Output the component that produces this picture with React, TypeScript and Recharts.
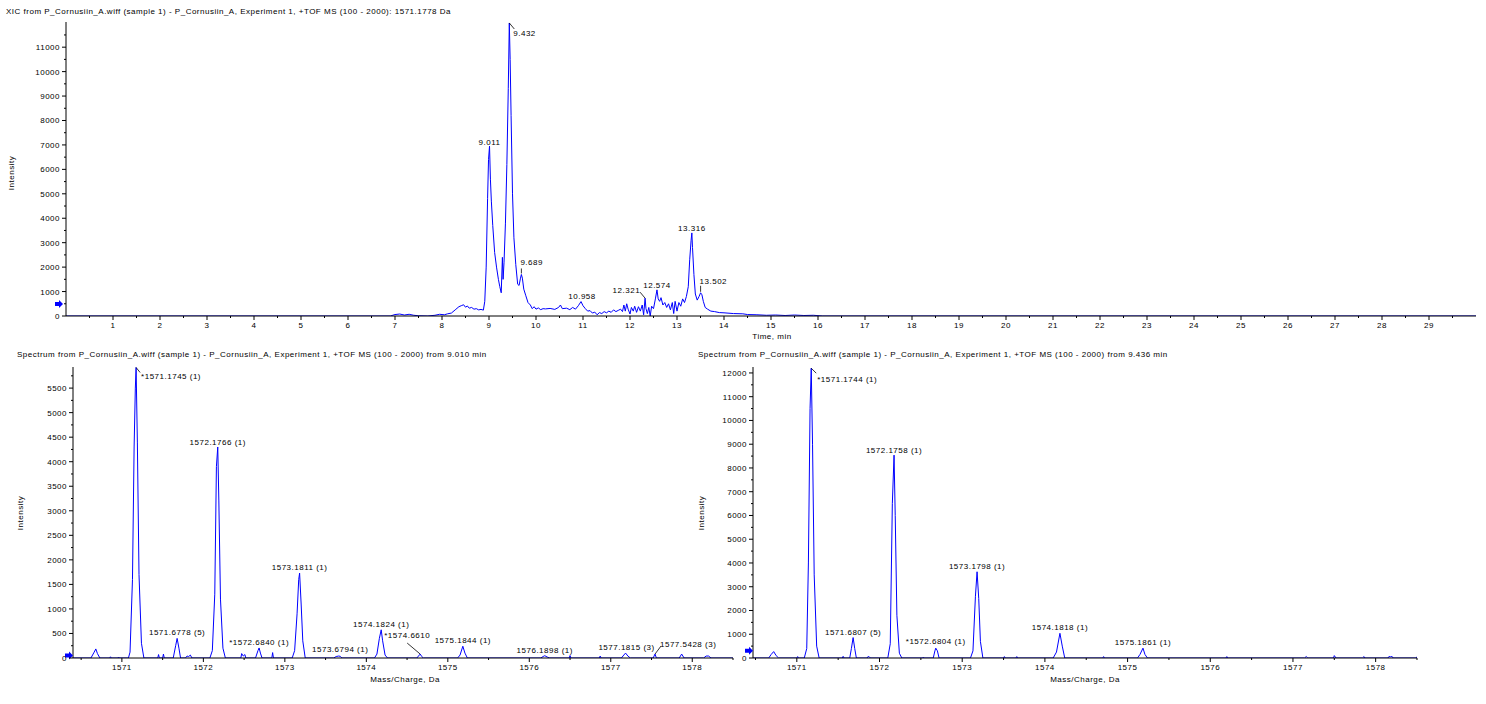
import React from 'react';
import { LineChart, Line, XAxis, YAxis, ReferenceDot } from 'recharts';

const FONT = '"Liberation Sans", Arial, sans-serif';
const BLUE = '#0000ff';

// ---- XIC of 1571.1778 Da ----
const xicTime = [
    0, 6.9, 7.0, 7.1, 7.2, 7.3, 7.4, 7.5, 7.7, 7.85, 7.95, 8.05, 8.12, 8.2, 8.28, 8.36, 8.42, 8.46,
    8.5, 8.54, 8.58, 8.63, 8.68, 8.73, 8.78, 8.83, 8.88, 8.91, 8.94, 8.97, 8.99, 9.011, 9.03, 9.05,
    9.08, 9.12, 9.16, 9.2, 9.23, 9.26, 9.285, 9.3, 9.32, 9.35, 9.38, 9.41, 9.432, 9.45, 9.47, 9.5,
    9.53, 9.57, 9.61, 9.64, 9.67, 9.689, 9.71, 9.74, 9.78, 9.83, 9.88, 9.92, 9.96, 10.0, 10.05, 10.1,
    10.15, 10.2, 10.3, 10.4, 10.48, 10.52, 10.56, 10.65, 10.72, 10.78, 10.84, 10.9, 10.958, 11.0,
    11.05, 11.1, 11.15, 11.2, 11.25, 11.3, 11.35, 11.4, 11.45, 11.5, 11.55, 11.6, 11.65, 11.7, 11.75,
    11.8, 11.84, 11.87, 11.9, 11.93, 11.96, 12.0, 12.03, 12.07, 12.1, 12.14, 12.18, 12.22, 12.26,
    12.29, 12.321, 12.34, 12.37, 12.4, 12.43, 12.46, 12.5, 12.54, 12.574, 12.6, 12.63, 12.66, 12.7,
    12.74, 12.78, 12.82, 12.86, 12.9, 12.93, 12.96, 13.0, 13.04, 13.08, 13.12, 13.16, 13.2, 13.24,
    13.27, 13.3, 13.316, 13.33, 13.36, 13.39, 13.43, 13.47, 13.502, 13.53, 13.56, 13.6, 13.65, 13.72,
    13.8, 13.9, 14.0, 14.2, 14.4, 14.5, 14.7, 14.9, 15.1, 15.3, 15.5, 15.7, 15.9, 16.1, 30,
];
const xicIntensity = [
    0, 0, 60, 80, 40, 70, 30, 10, 0, 30, 70, 50, 90, 120, 250, 380, 430, 460,
    360, 410, 320, 350, 280, 300, 250, 270, 240, 600, 2000, 4800, 6400, 6950, 5600, 4700,
    3700, 2600, 2000, 1500, 1200, 950, 2400, 1500, 2200, 3800, 6200, 9300, 11990, 10500, 8200, 5000,
    3200, 2100, 1300, 1250, 1550, 1700, 1550, 1100, 850, 550, 450, 300, 380, 280, 330, 260,
    300, 290, 310, 270, 350, 450, 300, 320, 260, 350, 280, 420, 590, 420,
    300, 200, 220, 120, 160, 50, 140, 100, 180, 130, 200, 150, 250, 180, 230,
    280, 180, 450, 200, 500, 280, 80, 350, 200, 400, 150, 380, 200, 450,
    50, 730, 300, 100, 350, 0, 400, 300, 700, 1070, 700, 600, 750, 450,
    550, 350, 500, 250, 550, 100, 600, 200, 550, 400, 700, 550, 800, 1200,
    2300, 3100, 3400, 2800, 1700, 900, 650, 800, 950, 870, 600, 350, 280, 200,
    180, 140, 130, 100, 90, 60, 50, 30, 40, 20, 40, 20, 30, 0, 0,
];
const xicPeakTime = [9.011, 9.432, 9.689, 10.958, 12.321, 12.574, 13.316, 13.502];
const xicPeakIntensity = [6950, 11990, 1700, 590, 730, 1070, 3400, 950];
const xicPeakText = ['9.011', '9.432', '9.689', '10.958', '12.321', '12.574', '13.316', '13.502'];

const timeTicks = [1, 2, 3, 4, 5, 6, 7, 8, 9, 10, 11, 12, 13, 14, 15, 16, 17, 18, 19, 20, 21, 22, 23, 24, 25, 26, 27, 28, 29];
const xicYTicks = [0, 1000, 2000, 3000, 4000, 5000, 6000, 7000, 8000, 9000, 10000, 11000];

// ---- spectrum from 9.010 min ----
const spec1Mz = [
    1570.4, 1570.62, 1570.66, 1570.68, 1570.7, 1570.73, 1570.85, 1570.86, 1570.87, 1570.95, 1570.96, 1570.97,
    1571.08, 1571.1, 1571.13, 1571.15, 1571.165, 1571.1745, 1571.19, 1571.21, 1571.24, 1571.27,
    1571.44, 1571.45, 1571.46, 1571.5, 1571.51, 1571.52, 1571.63, 1571.66, 1571.6778, 1571.7, 1571.72,
    1571.78, 1571.8, 1571.82, 1571.84, 1571.86,
    1572.08, 1572.11, 1572.14, 1572.16, 1572.1766, 1572.19, 1572.21, 1572.24, 1572.27,
    1572.46, 1572.47, 1572.49, 1572.51, 1572.52, 1572.64, 1572.67, 1572.684, 1572.7, 1572.72,
    1572.84, 1572.85, 1572.86,
    1573.09, 1573.12, 1573.15, 1573.17, 1573.1811, 1573.2, 1573.22, 1573.25,
    1573.6, 1573.63, 1573.66, 1573.6794, 1573.7,
    1574.1, 1574.13, 1574.16, 1574.1824, 1574.2, 1574.23, 1574.26,
    1574.62, 1574.64, 1574.661, 1574.68, 1574.7,
    1575.12, 1575.15, 1575.1844, 1575.21, 1575.24,
    1576.14, 1576.17, 1576.1898, 1576.22, 1576.25, 1576.49, 1576.5, 1576.51, 1576.86, 1576.87, 1576.88,
    1577.13, 1577.16, 1577.1815, 1577.21, 1577.24, 1577.52, 1577.5428, 1577.56,
    1577.84, 1577.87, 1577.9, 1578.14, 1578.17, 1578.2, 1578.23, 1578.5,
];
const spec1Intensity = [
    0, 0, 120, 185, 90, 0, 0, 25, 0, 0, 20, 0,
    0, 120, 1600, 4300, 5500, 5920, 4400, 1700, 300, 0,
    0, 70, 0, 0, 80, 0, 0, 250, 400, 200, 0,
    0, 40, 30, 60, 0,
    0, 150, 1300, 3900, 4300, 3200, 1200, 200, 0,
    0, 90, 40, 70, 0, 0, 150, 205, 100, 0,
    0, 110, 0,
    0, 150, 900, 1600, 1730, 1100, 350, 0,
    0, 30, 40, 35, 0,
    0, 80, 400, 575, 350, 60, 0,
    0, 40, 80, 30, 0,
    0, 60, 240, 100, 0,
    0, 30, 47, 20, 0, 0, 50, 0, 0, 40, 0,
    0, 60, 100, 40, 0, 0, 80, 0,
    0, 80, 0, 0, 40, 40, 0, 0,
];
const spec1PeakMz = [1571.1745, 1572.1766, 1573.1811, 1571.6778, 1572.684, 1573.6794, 1574.1824, 1574.661, 1575.1844, 1576.1898, 1577.1815, 1577.5428];
const spec1PeakIntensity = [5920, 4300, 1730, 400, 205, 35, 575, 80, 240, 47, 100, 80];
const spec1PeakText = [
    '*1571.1745 (1)', '1572.1766 (1)', '1573.1811 (1)', '1571.6778 (5)', '*1572.6840 (1)', '1573.6794 (1)',
    '1574.1824 (1)', '*1574.6610', '1575.1844 (1)', '1576.1898 (1)', '1577.1815 (3)', '1577.5428 (3)',
];
const spec1YTicks = [0, 500, 1000, 1500, 2000, 2500, 3000, 3500, 4000, 4500, 5000, 5500];

// ---- spectrum from 9.436 min ----
const spec2Mz = [
    1570.47, 1570.66, 1570.69, 1570.72, 1570.75, 1570.78, 1571.0, 1571.01, 1571.02,
    1571.09, 1571.12, 1571.14, 1571.16, 1571.1744, 1571.19, 1571.21, 1571.24, 1571.27,
    1571.55, 1571.56, 1571.57, 1571.64, 1571.66, 1571.6807, 1571.7, 1571.72,
    1571.85, 1571.86, 1571.88, 1571.89,
    1572.1, 1572.13, 1572.155, 1572.1758, 1572.19, 1572.21, 1572.24, 1572.27,
    1572.52, 1572.53, 1572.54, 1572.65, 1572.67, 1572.6804, 1572.7, 1572.72,
    1573.1, 1573.13, 1573.16, 1573.1798, 1573.2, 1573.22, 1573.25,
    1573.5, 1573.51, 1573.52, 1573.65, 1573.66, 1573.67,
    1574.1, 1574.14, 1574.1818, 1574.21, 1574.24, 1574.7, 1574.71, 1574.72,
    1575.12, 1575.15, 1575.1861, 1575.21, 1575.24,
    1576.19, 1576.2, 1576.21, 1577.14, 1577.16, 1577.18, 1577.49, 1577.5, 1577.52,
    1577.84, 1577.86, 1577.87, 1578.15, 1578.16, 1578.18, 1578.2, 1578.21, 1578.48, 1578.5,
];
const spec2Intensity = [
    0, 0, 150, 270, 100, 0, 0, 60, 0,
    0, 400, 4000, 10500, 12200, 9000, 3500, 500, 0,
    0, 70, 0, 0, 400, 860, 400, 0,
    0, 60, 40, 0,
    0, 600, 6500, 8540, 6000, 1800, 200, 0,
    0, 40, 0, 0, 300, 415, 300, 0,
    0, 300, 2600, 3630, 2500, 700, 0,
    0, 60, 0, 0, 60, 0,
    0, 250, 1040, 500, 0, 0, 60, 0,
    0, 150, 415, 150, 0,
    0, 60, 0, 0, 60, 0, 0, 100, 0,
    0, 60, 0, 0, 60, 50, 60, 0, 0, 40,
];
const spec2PeakMz = [1571.1744, 1572.1758, 1573.1798, 1571.6807, 1572.6804, 1574.1818, 1575.1861];
const spec2PeakIntensity = [12200, 8540, 3630, 860, 415, 1040, 415];
const spec2PeakText = ['*1571.1744 (1)', '1572.1758 (1)', '1573.1798 (1)', '1571.6807 (5)', '*1572.6804 (1)', '1574.1818 (1)', '1575.1861 (1)'];
const spec2YTicks = [0, 1000, 2000, 3000, 4000, 5000, 6000, 7000, 8000, 9000, 10000, 11000, 12000];

const mzTicks = [1571, 1572, 1573, 1574, 1575, 1576, 1577, 1578];

// label placement (offsets from the peak apex, in px)
type LabelPlace = { anchor: 'start' | 'middle' | 'end'; dx: number; dy: number; leader?: number[] };
const labelPlace: Record<string, LabelPlace> = {
    '9.011': { anchor: 'middle', dx: 0, dy: -1 },
    '9.432': { anchor: 'start', dx: 4, dy: 13, leader: [0, 0, 5, 6] },
    '9.689': { anchor: 'start', dx: -1, dy: -9, leader: [0, -1, 0, -6] },
    '10.958': { anchor: 'middle', dx: 1, dy: -3 },
    '12.321': { anchor: 'end', dx: -5, dy: -5, leader: [-5, -6, 0, 0] },
    '12.574': { anchor: 'middle', dx: 0, dy: -2 },
    '13.316': { anchor: 'middle', dx: 0, dy: -2 },
    '13.502': { anchor: 'start', dx: -1, dy: -9, leader: [0, -1, 0, -7] },
    '*1571.1745 (1)': { anchor: 'start', dx: 5, dy: 12, leader: [0, 0, 4, 5] },
    '1572.1766 (1)': { anchor: 'middle', dx: 0, dy: -2 },
    '1573.6794 (1)': { anchor: 'middle', dx: 0, dy: -4 },
    '*1574.6610': { anchor: 'end', dx: 10, dy: -16, leader: [-13, -11, 0, 0] },
    '1577.1815 (3)': { anchor: 'middle', dx: 1, dy: -3 },
    '1577.5428 (3)': { anchor: 'start', dx: 5, dy: -7, leader: [0, 0, 6, -8] },
    '*1571.1744 (1)': { anchor: 'start', dx: 6, dy: 14, leader: [0, 0, 5, 5] },
    '1572.1758 (1)': { anchor: 'middle', dx: 0, dy: -2 },
    '*1572.6804 (1)': { anchor: 'middle', dx: 0, dy: -4 },
};

const textStyle: React.CSSProperties = { fontFamily: FONT, fontSize: 8, letterSpacing: 0.5, fill: '#000' };

function PeakLabel({ cx, cy, text }: { cx: number; cy: number; text: string }) {
    const s = labelPlace[text] || { anchor: 'middle', dx: 0, dy: -3 };
    return (
        <g>
            {s.leader && (
                <line x1={cx + s.leader[0]} y1={cy + s.leader[1]} x2={cx + s.leader[2]} y2={cy + s.leader[3]} stroke="#000" strokeWidth={0.8} />
            )}
            <text x={cx + s.dx} y={cy + s.dy} textAnchor={s.anchor} style={textStyle}>{text}</text>
        </g>
    );
}

const arrowShape = (p: any) => {
    const { cx, cy } = p;
    return (
        <polygon
            points={`${cx - 9},${cy - 2} ${cx - 5},${cy - 2} ${cx - 5},${cy - 4} ${cx - 1},${cy} ${cx - 5},${cy + 4} ${cx - 5},${cy + 2} ${cx - 9},${cy + 2}`}
            fill={BLUE}
        />
    );
};

const makeXTick = (majors: number[]) => (props: any) => {
    const { x, y, payload } = props;
    const major = majors.includes(payload.value);
    return (
        <g>
            <line x1={x} y1={y} x2={x} y2={y + (major ? 4 : 2)} stroke="#000" />
            {major && <text x={x} y={y + 12} textAnchor="middle" style={textStyle}>{payload.value}</text>}
        </g>
    );
};

const makeYTick = (majors: number[]) => (props: any) => {
    const { x, y, payload } = props;
    const major = majors.includes(payload.value);
    return (
        <g>
            <line x1={x - (major ? 4 : 2)} y1={y} x2={x} y2={y} stroke="#000" />
            {major && <text x={x - 6} y={y + 3} textAnchor="end" style={textStyle}>{payload.value}</text>}
        </g>
    );
};

// major ticks plus a minor tick halfway between each
const withMinor = (majors: number[], step: number, min: number, max: number) =>
    [...majors, ...majors.map(v => v + step), majors[0] - step].filter(v => v >= min && v <= max).sort((a, b) => a - b);

const xicData = xicTime.map((t, i) => ({ x: t, v: xicIntensity[i] }));
const spec1Data = spec1Mz.map((m, i) => ({ x: m, v: spec1Intensity[i] }));
const spec2Data = spec2Mz.map((m, i) => ({ x: m, v: spec2Intensity[i] }));

const htmlText: React.CSSProperties = {
    position: 'absolute',
    fontFamily: FONT,
    fontSize: 8,
    letterSpacing: 0.5,
    color: '#000',
    whiteSpace: 'nowrap',
    lineHeight: 1,
};

interface SpectrumProps {
    data: { x: number; v: number }[];
    xDomain: number[];
    yMax: number;
    yTicks: number[];
    yStep: number;
    peakMz: number[];
    peakIntensity: number[];
    peakText: string[];
    arrowY: number;
    marginLeft: number;
    axisWidth: number;
    marginRight: number;
    width: number;
}

function Spectrum(p: SpectrumProps) {
    const xTicks = withMinor(mzTicks, 0.5, p.xDomain[0], p.xDomain[1]);
    return (
        <LineChart
            width={p.width}
            height={359}
            data={p.data}
            margin={{ top: 22, right: p.marginRight, bottom: 26, left: p.marginLeft }}
        >
            <XAxis
                dataKey="x"
                type="number"
                domain={p.xDomain}
                allowDataOverflow
                ticks={xTicks}
                interval={0}
                tickSize={0}
                tickMargin={0}
                tickLine={false}
                tick={makeXTick(mzTicks)}
                axisLine={{ stroke: '#000' }}
                height={20}
            />
            <YAxis
                type="number"
                domain={[0, p.yMax]}
                allowDataOverflow
                ticks={withMinor(p.yTicks, p.yStep / 2, 0, p.yMax)}
                interval={0}
                tickSize={0}
                tickMargin={0}
                tickLine={false}
                tick={makeYTick(p.yTicks)}
                axisLine={{ stroke: '#000' }}
                width={p.axisWidth}
            />
            <Line type="linear" dataKey="v" stroke={BLUE} strokeWidth={1} dot={false} isAnimationActive={false} />
            {p.peakMz.map((m, i) => (
                <ReferenceDot
                    key={p.peakText[i]}
                    x={m}
                    y={p.peakIntensity[i]}
                    r={0}
                    ifOverflow="visible"
                    shape={(s: any) => <PeakLabel cx={s.cx} cy={s.cy} text={p.peakText[i]} />}
                />
            ))}
            <ReferenceDot x={p.xDomain[0]} y={p.arrowY} r={0} ifOverflow="visible" shape={(s: any) => arrowShape({ cx: s.cx + 1, cy: s.cy })} />
        </LineChart>
    );
}

export default function App() {
    return (
        <div style={{ position: 'absolute', left: 0, top: 0, width: 1486, height: 704, background: '#fff', overflow: 'hidden' }}>
            {/* XIC */}
            <div style={{ position: 'absolute', left: 0, top: 0 }}>
                <LineChart width={1486} height={345} data={xicData} margin={{ top: 22, right: 10, bottom: 9, left: 10 }}>
                    <XAxis
                        dataKey="x"
                        type="number"
                        domain={[0, 30]}
                        allowDataOverflow
                        ticks={withMinor(timeTicks, 0.5, 0, 30)}
                        interval={0}
                        tickSize={0}
                        tickMargin={0}
                        tickLine={false}
                        tick={makeXTick(timeTicks)}
                        axisLine={{ stroke: '#000' }}
                        height={20}
                    />
                    <YAxis
                        type="number"
                        domain={[0, 12030]}
                        allowDataOverflow
                        ticks={withMinor(xicYTicks, 500, 0, 12030)}
                        interval={0}
                        tickSize={0}
                        tickMargin={0}
                        tickLine={false}
                        tick={makeYTick(xicYTicks)}
                        axisLine={{ stroke: '#000' }}
                        width={56}
                    />
                    <Line type="linear" dataKey="v" stroke={BLUE} strokeWidth={1} dot={false} isAnimationActive={false} />
                    {xicPeakTime.map((t, i) => (
                        <ReferenceDot
                            key={xicPeakText[i]}
                            x={t}
                            y={xicPeakIntensity[i]}
                            r={0}
                            ifOverflow="visible"
                            shape={(s: any) => <PeakLabel cx={s.cx} cy={s.cy} text={xicPeakText[i]} />}
                        />
                    ))}
                    <ReferenceDot x={0} y={490} r={0} ifOverflow="visible" shape={(s: any) => arrowShape({ cx: s.cx - 2, cy: s.cy })} />
                </LineChart>
            </div>
            <div style={{ ...htmlText, left: 6, top: 12, transform: 'translateY(-50%)' }}>
                XIC from P_Cornusiin_A.wiff (sample 1) - P_Cornusiin_A, Experiment 1, +TOF MS (100 - 2000): 1571.1778 Da
            </div>
            <div style={{ ...htmlText, left: 12, top: 173, transform: 'translate(-50%, -50%) rotate(-90deg)' }}>Intensity</div>
            <div style={{ ...htmlText, left: 772, top: 337, transform: 'translate(-50%, -50%)' }}>Time, min</div>

            {/* spectrum 9.010 min */}
            <div style={{ position: 'absolute', left: 0, top: 345 }}>
                <Spectrum
                    data={spec1Data}
                    xDomain={[1570.4, 1578.5]}
                    yMax={5930}
                    yTicks={spec1YTicks}
                    yStep={500}
                    peakMz={spec1PeakMz}
                    peakIntensity={spec1PeakIntensity}
                    peakText={spec1PeakText}
                    arrowY={50}
                    marginLeft={10}
                    axisWidth={63}
                    marginRight={10}
                    width={743}
                />
            </div>
            <div style={{ ...htmlText, left: 17, top: 355, transform: 'translateY(-50%)' }}>
                Spectrum from P_Cornusiin_A.wiff (sample 1) - P_Cornusiin_A, Experiment 1, +TOF MS (100 - 2000) from 9.010 min
            </div>
            <div style={{ ...htmlText, left: 21, top: 513, transform: 'translate(-50%, -50%) rotate(-90deg)' }}>Intensity</div>
            <div style={{ ...htmlText, left: 405, top: 680, transform: 'translate(-50%, -50%)' }}>Mass/Charge, Da</div>

            {/* spectrum 9.436 min */}
            <div style={{ position: 'absolute', left: 693, top: 345 }}>
                <Spectrum
                    data={spec2Data}
                    xDomain={[1570.47, 1578.5]}
                    yMax={12250}
                    yTicks={spec2YTicks}
                    yStep={1000}
                    peakMz={spec2PeakMz}
                    peakIntensity={spec2PeakIntensity}
                    peakText={spec2PeakText}
                    arrowY={300}
                    marginLeft={4}
                    axisWidth={56}
                    marginRight={69}
                    width={793}
                />
            </div>
            <div style={{ ...htmlText, left: 698, top: 355, transform: 'translateY(-50%)' }}>
                Spectrum from P_Cornusiin_A.wiff (sample 1) - P_Cornusiin_A, Experiment 1, +TOF MS (100 - 2000) from 9.436 min
            </div>
            <div style={{ ...htmlText, left: 702, top: 513, transform: 'translate(-50%, -50%) rotate(-90deg)' }}>Intensity</div>
            <div style={{ ...htmlText, left: 1085, top: 680, transform: 'translate(-50%, -50%)' }}>Mass/Charge, Da</div>
        </div>
    );
}
